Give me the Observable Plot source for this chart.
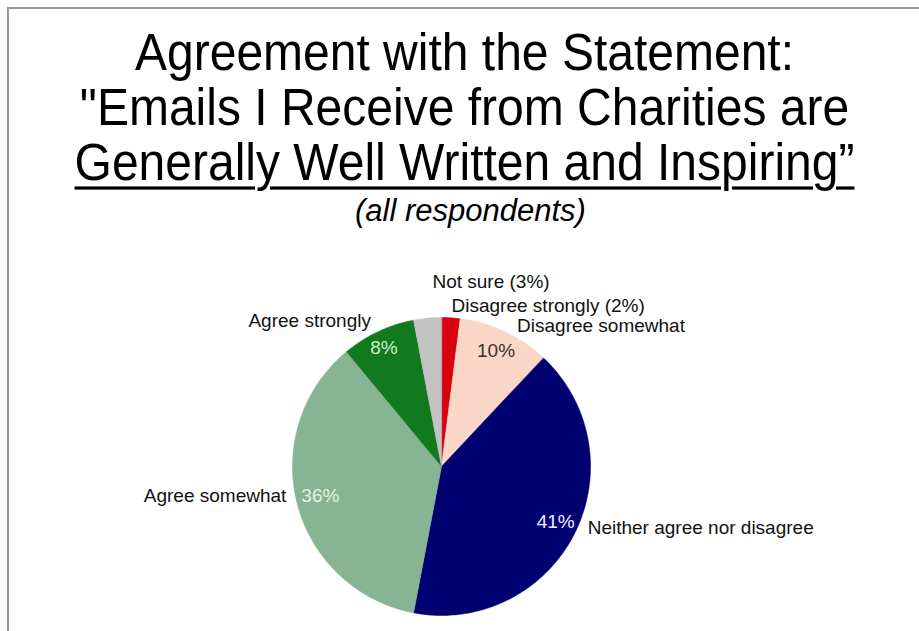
<!DOCTYPE html>
<html>
<head>
<meta charset="utf-8">
<script src="https://cdn.jsdelivr.net/npm/d3@7"></script>
<script src="https://cdn.jsdelivr.net/npm/@observablehq/plot@0.6"></script>
<style>
html, body { margin: 0; padding: 0; background: #fff; width: 919px; height: 631px; overflow: hidden; }
#frame { position: absolute; left: 7px; top: 7px; width: 912px; height: 624px; border-top: 2px solid #9a9a9a; border-left: 2px solid #9a9a9a; box-sizing: border-box; }
.t { position: absolute; left: 10px; width: 909px; text-align: center; font-family: "Liberation Sans", Arial, sans-serif; color: #000; white-space: nowrap; }
.big { font-size: 48px; line-height: 55px; transform: scaleY(1.07); transform-origin: 50% 44px; }
.u { text-decoration: underline; text-decoration-thickness: 3px; text-underline-offset: 6px; }
.sub { font-size: 31px; line-height: 34px; font-style: italic; left: 16px; }
#chart { position: absolute; left: 0; top: 240px; }
</style>
</head>
<body>
<div id="frame"></div>
<div id="titles"></div>
<div id="chart"></div>
<script>
// ---- data ----
const titleLines = ["Agreement with the Statement:", "\"Emails I Receive from Charities are", "Generally Well Written and Inspiring\u201d"];
const subtitle = "(all respondents)";
const categories = ["Disagree strongly", "Disagree somewhat", "Neither agree nor disagree", "Agree somewhat", "Agree strongly", "Not sure"];
const values = [2, 10, 41, 36, 8, 3];
const colors = ["#d8000f", "#f9d6c5", "#000070", "#87b493", "#127a1e", "#c3c3c3"];

// ---- titles ----
const titles = document.getElementById("titles");
const tops = [26, 81, 136];
titleLines.forEach((s, i) => {
  const d = document.createElement("div");
  d.className = "t big" + (i === 2 ? " u" : "");
  d.style.top = tops[i] + "px";
  d.textContent = s;
  titles.appendChild(d);
});
const sd = document.createElement("div");
sd.className = "t sub";
sd.style.top = "194px";
sd.textContent = subtitle;
titles.appendChild(sd);

// ---- slices (clockwise from 12 o'clock) ----
const total = d3.sum(values);
let acc = 0;
const slices = categories.map((c, i) => {
  const a0 = acc / total * 2 * Math.PI;
  acc += values[i];
  const a1 = acc / total * 2 * Math.PI;
  return {category: c, value: values[i], a0, a1, mid: (a0 + a1) / 2};
});
function slicePolygon(s) {
  const n = Math.max(4, Math.ceil((s.a1 - s.a0) / (2 * Math.PI) * 360));
  const pts = [[0, 0]];
  for (let k = 0; k <= n; k++) {
    const a = s.a0 + (s.a1 - s.a0) * k / n;
    pts.push([Math.sin(a), Math.cos(a)]);
  }
  pts.push([0, 0]);
  return {type: "Feature", properties: {category: s.category}, geometry: {type: "Polygon", coordinates: [pts]}};
}
const features = {type: "FeatureCollection", features: slices.map(slicePolygon)};

// ---- label layout (styling only) ----
const R = 0.86;
const pctLabels = {
  "Disagree somewhat": {fill: "#3b3030"},
  "Neither agree nor disagree": {fill: "#eeeefc", dy: -3},
  "Agree somewhat": {fill: "#e2f1e2", dx: 3, dy: -2},
  "Agree strongly": {fill: "#c9efc4", dx: -3, dy: -3}
};
const nameLabels = {
  "Not sure": {withValue: true, anchor: "start", dx: 3, dy: -57},
  "Disagree strongly": {withValue: true, anchor: "start", dx: 2, dy: -33},
  "Disagree somewhat": {anchor: "start", dx: 21, dy: -25},
  "Neither agree nor disagree": {anchor: "start", dx: 32, dy: 3},
  "Agree somewhat": {anchor: "end", dx: -31, dy: -2},
  "Agree strongly": {anchor: "end", dx: -16, dy: -30}
};
const font = "Liberation Sans, Arial, sans-serif";
const px = d => R * Math.sin(d.mid);
const py = d => R * Math.cos(d.mid);

const textMarks = [];
for (const s of slices) {
  const p = pctLabels[s.category];
  if (p) {
    textMarks.push(Plot.text([s], {x: px, y: py, text: d => d.value + "%", fill: p.fill,
      fontSize: 19, fontFamily: font, textAnchor: "middle", dx: p.dx || 0, dy: p.dy || 0}));
  }
  const n = nameLabels[s.category];
  textMarks.push(Plot.text([s], {x: px, y: py,
    text: d => n.withValue ? `${d.category} (${d.value}%)` : d.category,
    fill: "#111", fontSize: 19, fontFamily: font, textAnchor: n.anchor, dx: n.dx, dy: n.dy}));
}

const chart = Plot.plot({
  width: 919,
  height: 391,
  marginLeft: 292,
  marginRight: 329,
  marginTop: 77,
  marginBottom: 16,
  projection: {type: "reflect-y", domain: features},
  color: {domain: categories, range: colors},
  style: {fontFamily: font, background: "transparent", overflow: "visible"},
  marks: [
    Plot.geo(features, {fill: d => d.properties.category, stroke: d => d.properties.category, strokeWidth: 0.5}),
    ...textMarks
  ]
});
document.getElementById("chart").appendChild(chart);
</script>
</body>
</html>
